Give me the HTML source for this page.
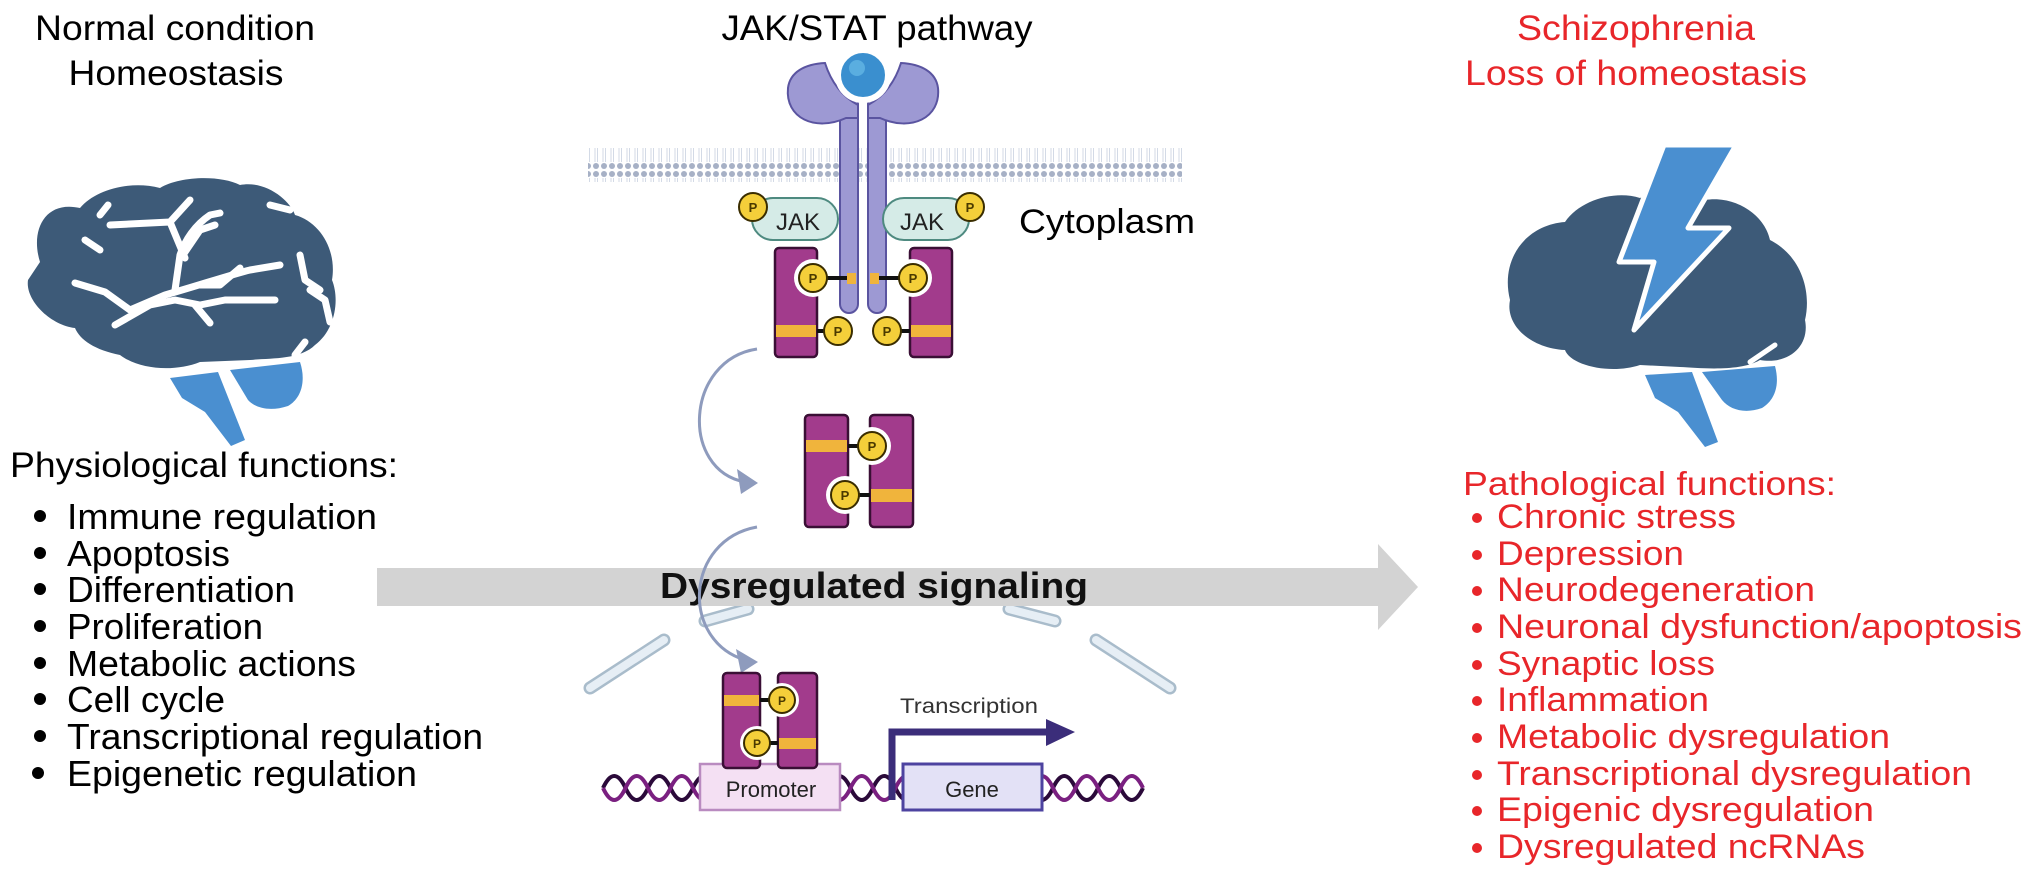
<!DOCTYPE html>
<html><head><meta charset="utf-8"><style>
html,body{margin:0;padding:0;background:#fff;}
svg{display:block;}
text{font-family:"Liberation Sans",Arial,sans-serif;}
</style></head><body>
<svg width="2032" height="875" viewBox="0 0 2032 875" xmlns="http://www.w3.org/2000/svg">
<defs>
<pattern id="mem" x="0" y="0" width="8" height="34" patternUnits="userSpaceOnUse">
<rect width="8" height="34" fill="#fff"/>
<circle cx="4" cy="4" r="3" fill="#a7b1c6"/>
<circle cx="4" cy="30" r="3" fill="#a7b1c6"/>
<line x1="3" y1="8" x2="3" y2="26" stroke="#d3dae6" stroke-width="1"/>
<line x1="5.5" y1="8" x2="5.5" y2="26" stroke="#d3dae6" stroke-width="1"/>
</pattern>
</defs>

<!-- Headers -->
<text x="175" y="40" font-size="35" text-anchor="middle" textLength="280" lengthAdjust="spacingAndGlyphs">Normal condition</text>
<text x="176" y="85" font-size="35" text-anchor="middle" textLength="215" lengthAdjust="spacingAndGlyphs">Homeostasis</text>
<text x="877" y="40" font-size="35" text-anchor="middle" textLength="311" lengthAdjust="spacingAndGlyphs">JAK/STAT pathway</text>
<text x="1636" y="40" font-size="35" fill="#e8262a" text-anchor="middle" textLength="238" lengthAdjust="spacingAndGlyphs">Schizophrenia</text>
<text x="1636" y="85" font-size="35" fill="#e8262a" text-anchor="middle" textLength="342" lengthAdjust="spacingAndGlyphs">Loss of homeostasis</text>
<text x="1019" y="233" font-size="34" textLength="176" lengthAdjust="spacingAndGlyphs">Cytoplasm</text>

<!-- Left brain -->
<g>
<path d="M40,262 C30,230 45,200 80,208 C95,190 130,180 160,188 C180,176 220,175 240,185 C265,180 290,200 295,215 C320,222 337,250 332,280 C340,300 335,330 315,345 C300,360 270,358 250,360 L200,362 C175,372 140,370 120,355 C95,350 80,340 75,328 C50,325 25,300 28,280 Z" fill="#3d5a78"/>
<path d="M170,378 L218,372 L245,440 L231,446 L205,412 L182,398 Z" fill="#4a8fd0"/>
<path d="M230,370 L300,362 C306,380 302,398 288,406 C270,412 255,408 248,400 Z" fill="#4a8fd0"/>
<g fill="none" stroke="#fff" stroke-width="7" stroke-linecap="round" stroke-linejoin="round">
<path d="M85,240 L100,250"/>
<path d="M110,225 L170,222 L190,200"/>
<path d="M170,222 L185,258"/>
<path d="M75,283 L105,292 L130,310 L165,295 C200,285 230,275 250,270 L280,265"/>
<path d="M115,325 L150,305 L175,300 L200,305 L225,300 L250,300 L275,300"/>
<path d="M195,305 L210,323"/>
<path d="M175,290 L180,255 C185,240 195,225 210,215 L220,213"/>
<path d="M183,255 L200,230 L215,225"/>
<path d="M200,285 L220,285 L240,268"/>
<path d="M270,205 L290,210"/>
<path d="M300,255 L305,280 L320,290"/>
<path d="M310,290 L325,300 L330,322"/>
<path d="M305,342 L295,355"/>
<path d="M100,215 L108,205"/>
</g>
</g>

<!-- Right brain -->
<g>
<path d="M1510,300 C1500,260 1525,225 1565,222 C1580,200 1615,190 1640,198 C1660,190 1690,190 1705,200 C1735,195 1765,215 1770,240 C1800,255 1812,290 1805,320 C1810,345 1790,365 1760,360 C1740,372 1700,368 1680,367 L1640,365 C1610,375 1570,365 1565,350 C1530,348 1505,325 1510,300 Z" fill="#3d5a78"/>
<path d="M1750,362 L1775,345" stroke="#fff" stroke-width="5" stroke-linecap="round"/>
<path d="M1645,375 L1692,372 L1718,442 L1705,447 L1678,412 L1655,398 Z" fill="#4a8fd0"/>
<path d="M1702,372 L1775,366 C1780,385 1775,400 1762,408 C1745,414 1730,410 1722,400 Z" fill="#4a8fd0"/>
<polygon points="1664,145 1736,145 1688,228 1729,228 1634,330 1654,262 1619,262" fill="#4a8fd0" stroke="#fff" stroke-width="5" stroke-linejoin="round"/>
</g>

<!-- Left list -->
<text x="10" y="477" font-size="35" textLength="388" lengthAdjust="spacingAndGlyphs">Physiological functions:</text>
<g font-size="36">
<circle cx="40" cy="516" r="6"/><text x="67" y="529" textLength="310" lengthAdjust="spacingAndGlyphs">Immune regulation</text>
<circle cx="40" cy="553" r="6"/><text x="67" y="566" textLength="163" lengthAdjust="spacingAndGlyphs">Apoptosis</text>
<circle cx="40" cy="589" r="6"/><text x="67" y="602" textLength="228" lengthAdjust="spacingAndGlyphs">Differentiation</text>
<circle cx="40" cy="626" r="6"/><text x="67" y="639" textLength="196" lengthAdjust="spacingAndGlyphs">Proliferation</text>
<circle cx="40" cy="663" r="6"/><text x="67" y="676" textLength="289" lengthAdjust="spacingAndGlyphs">Metabolic actions</text>
<circle cx="40" cy="699" r="6"/><text x="67" y="712" textLength="158" lengthAdjust="spacingAndGlyphs">Cell cycle</text>
<circle cx="40" cy="736" r="6"/><text x="67" y="749" textLength="416" lengthAdjust="spacingAndGlyphs">Transcriptional regulation</text>
<circle cx="38" cy="773" r="6"/><text x="67" y="786" textLength="350" lengthAdjust="spacingAndGlyphs">Epigenetic regulation</text>
</g>

<!-- Right list -->
<g fill="#e8262a">
<text x="1463" y="495" font-size="33" textLength="373" lengthAdjust="spacingAndGlyphs">Pathological functions:</text>
<g font-size="34">
<circle cx="1477" cy="518" r="5"/><text x="1497" y="528" textLength="239" lengthAdjust="spacingAndGlyphs">Chronic stress</text>
<circle cx="1477" cy="555" r="5"/><text x="1497" y="565" textLength="187" lengthAdjust="spacingAndGlyphs">Depression</text>
<circle cx="1477" cy="591" r="5"/><text x="1497" y="601" textLength="318" lengthAdjust="spacingAndGlyphs">Neurodegeneration</text>
<circle cx="1477" cy="628" r="5"/><text x="1497" y="638" textLength="525" lengthAdjust="spacingAndGlyphs">Neuronal dysfunction/apoptosis</text>
<circle cx="1477" cy="665" r="5"/><text x="1497" y="675" textLength="218" lengthAdjust="spacingAndGlyphs">Synaptic loss</text>
<circle cx="1477" cy="701" r="5"/><text x="1497" y="711" textLength="212" lengthAdjust="spacingAndGlyphs">Inflammation</text>
<circle cx="1477" cy="738" r="5"/><text x="1497" y="748" textLength="393" lengthAdjust="spacingAndGlyphs">Metabolic dysregulation</text>
<circle cx="1477" cy="775" r="5"/><text x="1497" y="785" textLength="475" lengthAdjust="spacingAndGlyphs">Transcriptional dysregulation</text>
<circle cx="1477" cy="811" r="5"/><text x="1497" y="821" textLength="377" lengthAdjust="spacingAndGlyphs">Epigenic dysregulation</text>
<circle cx="1477" cy="848" r="5"/><text x="1497" y="858" textLength="368" lengthAdjust="spacingAndGlyphs">Dysregulated ncRNAs</text>
</g>
</g>

<!-- Membrane -->
<rect x="588" y="148" width="594" height="34" fill="url(#mem)"/>

<!-- Receptor -->
<g fill="#9d99d3" stroke="#5a54a0" stroke-width="2">
<rect x="840" y="95" width="18" height="218" rx="9"/>
<rect x="868" y="95" width="18" height="218" rx="9"/>
<path d="M846,118 C815,132 785,118 788,88 C790,72 805,64 825,63 C832,85 845,98 858,105 L858,118 Z"/>
<path d="M880,118 C911,132 941,118 938,88 C936,72 921,64 901,63 C894,85 881,98 868,105 L868,118 Z"/>
</g>
<circle cx="863" cy="75" r="25" fill="#3a8fcf" stroke="#fff" stroke-width="6"/>
<circle cx="857" cy="68" r="8" fill="#5aaee0"/>

<!-- JAK -->
<g>
<rect x="752" y="198" width="86" height="42" rx="21" fill="#d5ebe7" stroke="#4e8a80" stroke-width="2"/>
<rect x="883" y="198" width="86" height="42" rx="21" fill="#d5ebe7" stroke="#4e8a80" stroke-width="2"/>
<text x="798" y="230" font-size="24" text-anchor="middle" fill="#222">JAK</text>
<text x="922" y="230" font-size="24" text-anchor="middle" fill="#222">JAK</text>
<circle cx="753" cy="207" r="14" fill="#f4cf3a" stroke="#3a2d00" stroke-width="2"/>
<text x="753" y="212" font-size="13" font-weight="bold" text-anchor="middle" fill="#4a3a00">P</text>
<circle cx="970" cy="207" r="14" fill="#f4cf3a" stroke="#3a2d00" stroke-width="2"/>
<text x="970" y="212" font-size="13" font-weight="bold" text-anchor="middle" fill="#4a3a00">P</text>
</g>

<!-- STAT top -->
<g stroke="#3a0f35" stroke-width="2.5">
<rect x="775" y="248" width="42" height="109" rx="4" fill="#a23b8c"/>
<rect x="910" y="248" width="42" height="109" rx="4" fill="#a23b8c"/>
</g>
<rect x="776" y="325" width="40" height="12" fill="#f0b43c"/>
<rect x="911" y="325" width="40" height="12" fill="#f0b43c"/>
<circle cx="813" cy="278" r="19" fill="#fff"/>
<circle cx="913" cy="278" r="19" fill="#fff"/>
<rect x="847" y="273" width="9" height="11" fill="#f0b43c"/>
<rect x="870" y="273" width="9" height="11" fill="#f0b43c"/>
<g stroke="#111" stroke-width="4">
<line x1="813" y1="278" x2="847" y2="278"/><line x1="879" y1="278" x2="913" y2="278"/>
<line x1="817" y1="331" x2="838" y2="331"/><line x1="887" y1="331" x2="910" y2="331"/>
</g>
<g fill="#f4cf3a" stroke="#3a2d00" stroke-width="2">
<circle cx="813" cy="278" r="14"/><circle cx="913" cy="278" r="14"/>
<circle cx="838" cy="331" r="14"/><circle cx="887" cy="331" r="14"/>
</g>
<g font-size="13" font-weight="bold" text-anchor="middle" fill="#4a3a00">
<text x="813" y="283">P</text><text x="913" y="283">P</text><text x="838" y="336">P</text><text x="887" y="336">P</text>
</g>

<!-- Middle dimer -->
<g stroke="#3a0f35" stroke-width="2.5" fill="#a23b8c">
<rect x="805" y="415" width="43" height="112" rx="4"/>
<rect x="870" y="415" width="43" height="112" rx="4"/>
</g>
<rect x="806" y="440" width="41" height="12" fill="#f0b43c"/>
<rect x="871" y="489" width="41" height="13" fill="#f0b43c"/>
<circle cx="872" cy="446" r="19" fill="#fff"/>
<circle cx="845" cy="495" r="19" fill="#fff"/>
<g stroke="#111" stroke-width="4"><line x1="848" y1="446" x2="860" y2="446"/><line x1="858" y1="495" x2="870" y2="495"/></g>
<g fill="#f4cf3a" stroke="#3a2d00" stroke-width="2"><circle cx="872" cy="446" r="14"/><circle cx="845" cy="495" r="14"/></g>
<g font-size="13" font-weight="bold" text-anchor="middle" fill="#4a3a00"><text x="872" y="451">P</text><text x="845" y="500">P</text></g>

<!-- Nuclear envelope -->
<g stroke-linecap="round">
<g stroke="#a9bccb" stroke-width="13">
<line x1="590" y1="688" x2="664" y2="640"/><line x1="705" y1="621" x2="748" y2="609"/>
<line x1="1009" y1="609" x2="1055" y2="621"/><line x1="1096" y1="640" x2="1170" y2="688"/>
</g>
<g stroke="#e6eef5" stroke-width="8">
<line x1="590" y1="688" x2="664" y2="640"/><line x1="705" y1="621" x2="748" y2="609"/>
<line x1="1009" y1="609" x2="1055" y2="621"/><line x1="1096" y1="640" x2="1170" y2="688"/>
</g>
</g>

<!-- Gray arrow -->
<path d="M377,568 L1378,568 L1378,544 L1418,587 L1378,630 L1378,606 L377,606 Z" fill="#d3d3d3"/>
<text x="660" y="598" font-size="36" font-weight="bold" textLength="428" lengthAdjust="spacingAndGlyphs" fill="#111">Dysregulated signaling</text>

<!-- Curved arrows -->
<g fill="none" stroke="#8e9bbd" stroke-width="3">
<path d="M757,349 C685,360 680,470 745,482"/>
<path d="M757,527 C685,540 680,640 745,660"/>
</g>
<polygon points="758,483 737,469 741,494" fill="#8e9bbd"/>
<polygon points="758,662 736,649 741,673" fill="#8e9bbd"/>

<!-- DNA -->
<g fill="none" stroke-width="4">
<path stroke="#2b0a3a" d="M603,788 q11.25,-24 22.5,0 t22.5,0 t22.5,0 t22.5,0 t22.5,0 t22.5,0 t22.5,0 t22.5,0 t22.5,0 t22.5,0 t22.5,0 t22.5,0 t22.5,0 t22.5,0 t22.5,0 t22.5,0 t22.5,0 t22.5,0 t22.5,0 t22.5,0 t22.5,0 t22.5,0 t22.5,0 t22.5,0"/>
<path stroke="#7a2080" d="M603,788 q11.25,24 22.5,0 t22.5,0 t22.5,0 t22.5,0 t22.5,0 t22.5,0 t22.5,0 t22.5,0 t22.5,0 t22.5,0 t22.5,0 t22.5,0 t22.5,0 t22.5,0 t22.5,0 t22.5,0 t22.5,0 t22.5,0 t22.5,0 t22.5,0 t22.5,0 t22.5,0 t22.5,0 t22.5,0"/>
</g>
<rect x="700" y="764" width="140" height="46" fill="#f4e0f3" stroke="#b98bc0" stroke-width="2.5"/>
<text x="771" y="797" font-size="22" text-anchor="middle" fill="#222">Promoter</text>
<rect x="903" y="764" width="139" height="46" fill="#e3e1f6" stroke="#4d43a0" stroke-width="3"/>
<text x="972" y="797" font-size="22" text-anchor="middle" fill="#222">Gene</text>
<path d="M892,800 L892,732 L1050,732" fill="none" stroke="#3b2d7a" stroke-width="7"/>
<polygon points="1046,719 1075,732 1046,746" fill="#3b2d7a"/>
<text x="900" y="713" font-size="21" fill="#333" textLength="138" lengthAdjust="spacingAndGlyphs">Transcription</text>

<!-- Bottom dimer -->
<g stroke="#3a0f35" stroke-width="2.5" fill="#a23b8c">
<rect x="723" y="673" width="37" height="95" rx="4"/>
<rect x="778" y="673" width="39" height="95" rx="4"/>
</g>
<rect x="724" y="695" width="35" height="11" fill="#f0b43c"/>
<rect x="779" y="738" width="37" height="11" fill="#f0b43c"/>
<circle cx="782" cy="700" r="17" fill="#fff"/>
<circle cx="757" cy="743" r="17" fill="#fff"/>
<g stroke="#111" stroke-width="4"><line x1="760" y1="700" x2="770" y2="700"/><line x1="768" y1="743" x2="778" y2="743"/></g>
<g fill="#f4cf3a" stroke="#3a2d00" stroke-width="2"><circle cx="782" cy="700" r="13"/><circle cx="757" cy="743" r="13"/></g>
<g font-size="12" font-weight="bold" text-anchor="middle" fill="#4a3a00"><text x="782" y="705">P</text><text x="757" y="748">P</text></g>
</svg>
</body></html>
